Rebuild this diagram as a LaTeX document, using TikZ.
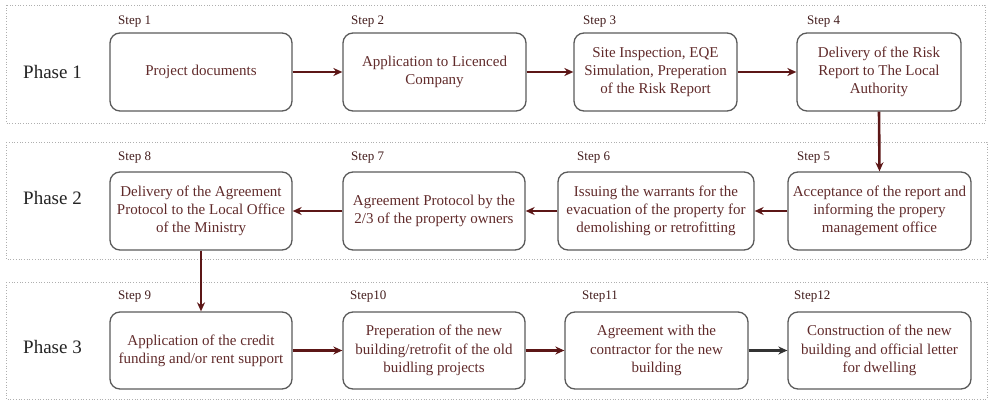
\documentclass[tikz,border=0pt]{standalone}
\usepackage{fontspec}
\setmainfont{Liberation Serif}
\usetikzlibrary{arrows.meta}
\definecolor{txtc}{RGB}{96,42,42}
\definecolor{arrc}{RGB}{92,22,22}
\definecolor{boxc}{RGB}{90,90,90}
\definecolor{phc}{RGB}{175,175,175}
\definecolor{phtxt}{RGB}{35,35,35}
\tikzset{
  stepbox/.style={draw=boxc, line width=1.3pt, rounded corners=10pt, align=center,
    text=txtc, font=\fontsize{15}{18.3}\selectfont, inner sep=2pt, minimum height=78pt},
  phasebox/.style={draw=phc, line width=0.7pt, dotted},
  steplbl/.style={anchor=west, text=txtc!70!black, font=\fontsize{13}{15}\selectfont, inner sep=0pt},
  phlbl/.style={anchor=west, text=phtxt, font=\fontsize{19}{22}\selectfont, inner sep=0pt},
  flow/.style={draw=arrc, line width=2.6pt, -{Stealth[length=9pt,width=8pt]}},
  flowk/.style={draw=black!80, line width=2.2pt, -{Stealth[length=9pt,width=8pt]}}
}
\begin{document}
\begin{tikzpicture}[x=1pt,y=-1pt]
\useasboundingbox (0,0) rectangle (988,401);
% phase frames
\draw[phasebox] (6,5) rectangle (985,123);
\draw[phasebox] (6,142) rectangle (987,259);
\draw[phasebox] (6,282) rectangle (987,399);
\node[phlbl] (p1) at (23,72) {Phase 1};
\node[phlbl] (p2) at (23,198) {Phase 2};
\node[phlbl] (p3) at (23,347) {Phase 3};
% row 1
\node[stepbox, minimum width=182pt] (b1) at (201,72) {Project documents};
\node[stepbox, minimum width=183pt] (b2) at (434.5,72) {Application to Licenced\\Company};
\node[stepbox, minimum width=163pt] (b3) at (655.5,72) {Site Inspection, EQE\\Simulation, Preperation\\of the Risk Report};
\node[stepbox, minimum width=164pt] (b4) at (879,72) {Delivery of the Risk\\Report to The Local\\Authority};
% row 2
\node[stepbox, minimum width=182pt] (b8) at (201,211) {Delivery of the Agreement\\Protocol to the Local Office\\of the Ministry};
\node[stepbox, minimum width=182pt] (b7) at (434,211) {Agreement Protocol by the\\2/3 of the property owners};
\node[stepbox, minimum width=196pt] (b6) at (656,211) {Issuing the warrants for the\\evacuation of the property for\\demolishing or retrofitting};
\node[stepbox, minimum width=183pt] (b5) at (879.5,211) {Acceptance of the report and\\informing the propery\\management office};
% row 3
\node[stepbox, minimum width=182pt, minimum height=77pt] (b9) at (201,350.5) {Application of the credit\\funding and/or rent support};
\node[stepbox, minimum width=182pt, minimum height=77pt] (b10) at (434,350.5) {Preperation of the new\\building/retrofit of the old\\buidling projects};
\node[stepbox, minimum width=183pt, minimum height=77pt] (b11) at (656.5,350.5) {Agreement with the\\contractor for the new\\building};
\node[stepbox, minimum width=183pt, minimum height=77pt] (b12) at (879.5,350.5) {Construction of the new\\building and official letter\\for dwelling};
% step labels
\node[steplbl] (s1) at (118,22) {Step 1};
\node[steplbl] (s2) at (351,22) {Step 2};
\node[steplbl] (s3) at (583,22) {Step 3};
\node[steplbl] (s4) at (807,22) {Step 4};
\node[steplbl] (s8) at (118,158) {Step 8};
\node[steplbl] (s7) at (351,158) {Step 7};
\node[steplbl] (s6) at (577,158) {Step 6};
\node[steplbl] (s5) at (797,158) {Step 5};
\node[steplbl] (s9) at (118,297) {Step 9};
\node[steplbl] (s10) at (350,297) {Step10};
\node[steplbl] (s11) at (582,297) {Step11};
\node[steplbl] (s12) at (794,297) {Step12};
% connectors
\draw[flow] (b1) -- (b2);
\draw[flow] (b2) -- (b3);
\draw[flow] (b3) -- (b4);
\draw[flow] (b4.south) -- (b5.north);
\draw[flow] (b5) -- (b6);
\draw[flow] (b6) -- (b7);
\draw[flow] (b7) -- (b8);
\draw[flow] (b8.south) -- (b9.north);
\draw[flow] (b9) -- (b10);
\draw[flow] (b10) -- (b11);
\draw[flowk] (b11) -- (b12);
\end{tikzpicture}
\end{document}
